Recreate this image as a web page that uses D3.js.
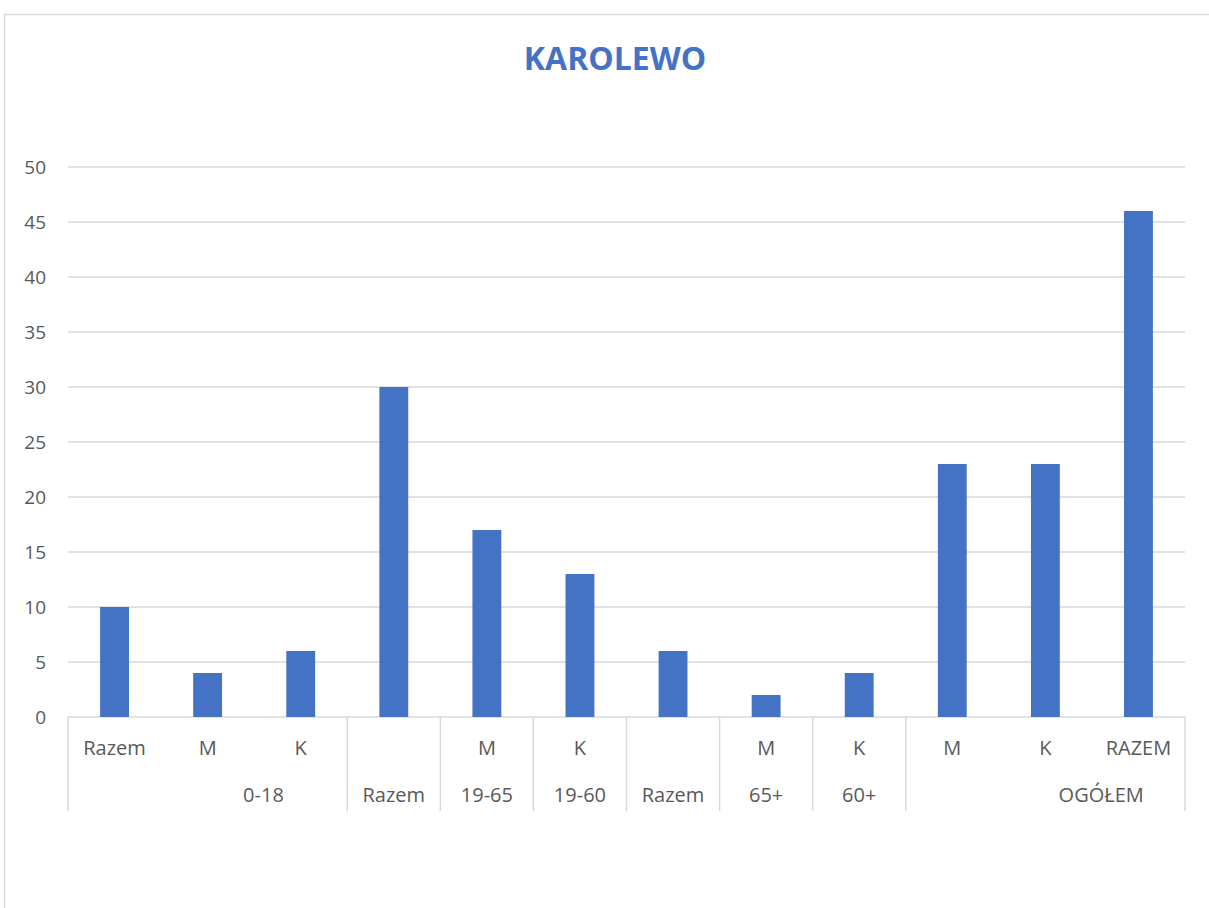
<!DOCTYPE html>
<html>
<head>
<meta charset="utf-8">
<script src="https://cdn.jsdelivr.net/npm/d3@7"></script>
<style>
  body { margin: 0; background: #fff; }
  text { font-family: "Open Sans", "Liberation Sans", sans-serif; fill: #595959; }
</style>
</head>
<body>
<div id="chart"></div>
<script>
// category labels (inner level) and their values
const subLabels = ['Razem', 'M', 'K', '', 'M', 'K', '', 'M', 'K', 'M', 'K', 'RAZEM'];
const values = [10, 4, 6, 30, 17, 13, 6, 2, 4, 23, 23, 46];
// outer level groups: label + number of categories it spans
const groupLabels = ['0-18', 'Razem', '19-65', '19-60', 'Razem', '65+', '60+', 'OGÓŁEM'];
const groupSpans = [3, 1, 1, 1, 1, 1, 1, 3];
const yTicks = [0, 5, 10, 15, 20, 25, 30, 35, 40, 45, 50];
const title = 'KAROLEWO';

const W = 1209, H = 908;
const margin = {top: 167, right: 24, bottom: 191, left: 68};
const width = W - margin.left - margin.right;
const height = H - margin.top - margin.bottom;
const gridColor = '#d9d9d9';

const svg = d3.select('#chart').append('svg')
  .attr('width', W)
  .attr('height', H);

// chart area frame
svg.append('path')
  .attr('d', `M4.5,${H} V14.5 H${W}`)
  .attr('fill', 'none')
  .attr('stroke', gridColor)
  .attr('stroke-width', 1.5);

svg.append('text')
  .attr('x', 615)
  .attr('y', 70)
  .attr('text-anchor', 'middle')
  .style('font-size', '32px')
  .style('font-weight', 'bold')
  .style('fill', '#4472C4')
  .text(title);

const g = svg.append('g')
  .attr('transform', `translate(${margin.left},${margin.top})`);

const idx = d3.range(values.length);
const x = d3.scaleBand().domain(idx).range([0, width]).paddingInner(0).paddingOuter(0);
const y = d3.scaleLinear().domain([0, 50]).range([height, 0]);

// grid
g.append('g').selectAll('line')
  .data(yTicks)
  .enter().append('line')
  .attr('x1', 0).attr('x2', width)
  .attr('y1', d => y(d)).attr('y2', d => y(d))
  .attr('stroke', gridColor)
  .attr('stroke-width', 1.5);

// y labels
g.append('g').selectAll('text')
  .data(yTicks)
  .enter().append('text')
  .attr('x', -22)
  .attr('y', d => y(d))
  .attr('dy', '0.35em')
  .attr('text-anchor', 'end')
  .style('font-size', '19px')
  .text(d => d);

// bars
const barW = x.bandwidth() * 0.31;
g.append('g').selectAll('rect')
  .data(values)
  .enter().append('rect')
  .attr('x', (d, i) => x(i) + (x.bandwidth() - barW) / 2)
  .attr('y', d => y(d))
  .attr('width', barW)
  .attr('height', d => y(0) - y(d))
  .attr('fill', '#4472C4');

// multi-level category axis
const axis = g.append('g').attr('transform', `translate(0,${height})`);
const axisDepth = 94;

axis.selectAll('.sub')
  .data(subLabels)
  .enter().append('text')
  .attr('class', 'sub')
  .attr('x', (d, i) => x(i) + x.bandwidth() / 2)
  .attr('y', 31)
  .attr('dy', '0.35em')
  .attr('text-anchor', 'middle')
  .style('font-size', '20px')
  .text(d => d);

// group boundaries
let starts = [0];
groupSpans.forEach((s, i) => starts.push(starts[i] + s));
const groups = groupLabels.map((label, i) => ({label, start: starts[i], span: groupSpans[i]}));

const bounds = starts.map(s => s === values.length ? width : x(s));
axis.selectAll('.sep')
  .data(bounds)
  .enter().append('line')
  .attr('class', 'sep')
  .attr('x1', d => d).attr('x2', d => d)
  .attr('y1', 0).attr('y2', axisDepth)
  .attr('stroke', gridColor)
  .attr('stroke-width', 1.5);

axis.selectAll('.grp')
  .data(groups)
  .enter().append('text')
  .attr('class', 'grp')
  .attr('x', d => {
    const x0 = x(d.start);
    const w = d.span * x.bandwidth();
    return d.span > 1 ? x0 + w * 0.7 : x0 + w / 2;
  })
  .attr('y', 78)
  .attr('dy', '0.35em')
  .attr('text-anchor', 'middle')
  .style('font-size', '20px')
  .text(d => d.label);
</script>
</body>
</html>
